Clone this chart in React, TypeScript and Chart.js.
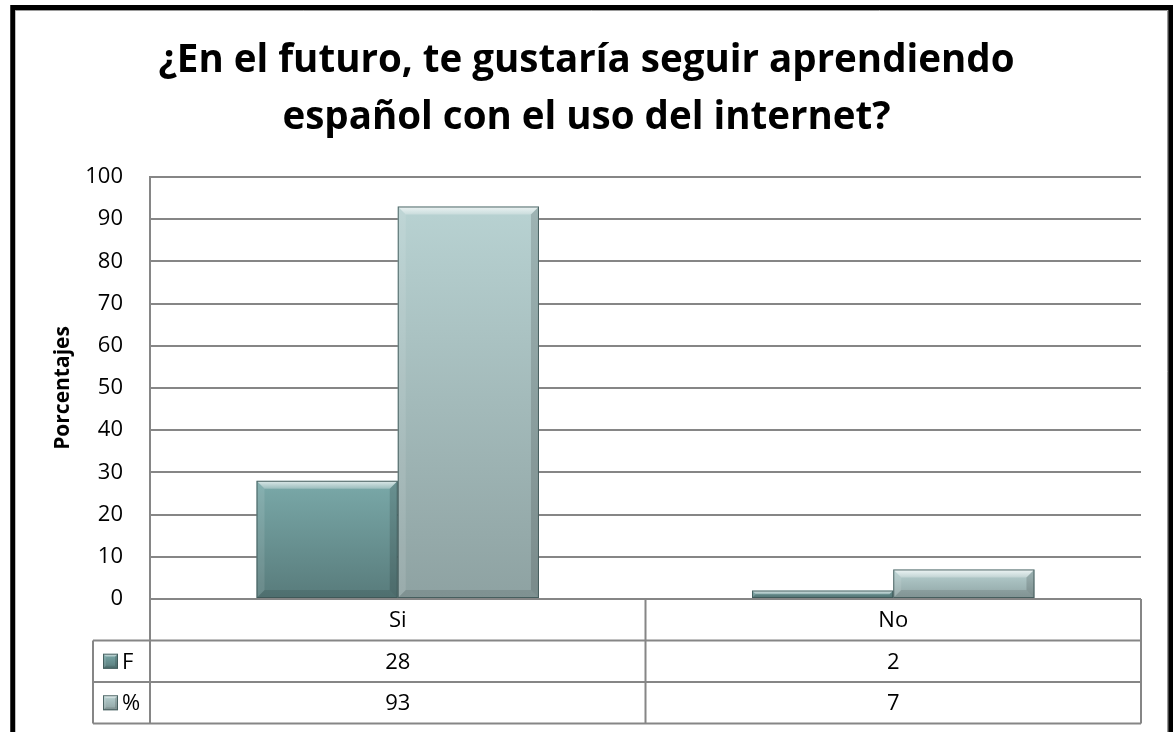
import React, { useEffect, useRef } from "react";
import { Chart, registerables } from "chart.js";

Chart.register(...registerables);

const TITLE_LINES = ["¿En el futuro, te gustaría seguir aprendiendo", "español con el uso del internet?"];
const CATEGORIES = ["Si", "No"];
const SERIES_NAMES = ["F", "%"];
const F_VALUES = [28, 2];
const PCT_VALUES = [93, 7];
const Y_MIN = 0;
const Y_MAX = 100;
const Y_STEP = 10;
const Y_TITLE = "Porcentajes";

const FONT = "'Open Sans', 'Noto Sans', sans-serif";
const GRID = "#868686";
const SERIES_TOP = ["#7aa9a9", "#b8d2d2"];
const SERIES_BOTTOM = ["#587b7b", "#8ea2a2"];

function barGradient(chart: any, idx: number, value: number) {
  const y = chart.scales.y;
  const top = y.getPixelForValue(value);
  const bot = y.getPixelForValue(0);
  const g = chart.ctx.createLinearGradient(0, top, 0, Math.max(bot, top + 1));
  g.addColorStop(0, SERIES_TOP[idx]);
  g.addColorStop(1, SERIES_BOTTOM[idx]);
  return g;
}

function bevelRect(ctx: CanvasRenderingContext2D, l: number, t: number, r: number, btm: number, size: number) {
  const b = Math.max(0, Math.min(size, (btm - t) / 2, (r - l) / 2));
  const poly = (pts: number[][], fill: any) => {
    ctx.beginPath();
    ctx.moveTo(pts[0][0], pts[0][1]);
    for (let i = 1; i < pts.length; i++) ctx.lineTo(pts[i][0], pts[i][1]);
    ctx.closePath();
    ctx.fillStyle = fill;
    ctx.fill();
  };
  const tg = ctx.createLinearGradient(0, t, 0, t + b + 0.01);
  tg.addColorStop(0, "rgba(255,255,255,0.75)");
  tg.addColorStop(1, "rgba(255,255,255,0.25)");
  poly([[l, t], [r, t], [r - b, t + b], [l + b, t + b]], tg);
  poly([[l, t], [l + b, t + b], [l + b, btm - b], [l, btm]], "rgba(255,255,255,0.10)");
  poly([[r, t], [r, btm], [r - b, btm - b], [r - b, t + b]], "rgba(0,0,0,0.14)");
  poly([[l, btm], [r, btm], [r - b, btm - b], [l + b, btm - b]], "rgba(0,0,0,0.10)");
  ctx.strokeStyle = "rgba(60,85,85,0.85)";
  ctx.lineWidth = 1;
  ctx.strokeRect(l + 0.5, t + 0.5, r - l - 1, btm - t - 1);
}

const framePlugin = {
  id: "frame",
  beforeDraw(chart: any) {
    const ctx = chart.ctx;
    ctx.save();
    ctx.fillStyle = "#ffffff";
    ctx.fillRect(0, 0, chart.width, chart.height);
    ctx.strokeStyle = "#000000";
    ctx.lineWidth = 5;
    ctx.strokeRect(12.75, 7.5, 1158, chart.height + 20);
    ctx.strokeStyle = "#9a9a9a";
    ctx.lineWidth = 1;
    ctx.beginPath();
    ctx.moveTo(15, 10.5);
    ctx.lineTo(1167.5, 10.5);
    ctx.lineTo(1167.5, chart.height);
    ctx.stroke();
    ctx.restore();
  },
};

const bevelPlugin = {
  id: "bevel",
  afterDatasetsDraw(chart: any) {
    const ctx = chart.ctx;
    ctx.save();
    chart.data.datasets.forEach((_: any, di: number) => {
      const meta = chart.getDatasetMeta(di);
      meta.data.forEach((bar: any) => {
        const p = bar.getProps(["x", "y", "base", "width"], true);
        const l = p.x - p.width / 2;
        const r = p.x + p.width / 2;
        bevelRect(ctx, l, Math.min(p.y, p.base), r, Math.max(p.y, p.base), 8);
      });
    });
    ctx.restore();
  },
};

const tablePlugin = {
  id: "dataTable",
  afterDraw(chart: any) {
    const ctx = chart.ctx;
    const area = chart.chartArea;
    const xs = chart.scales.x;
    const rowH = 41.5;
    const legendLeft = 93;
    const top = area.bottom;
    const rows = [CATEGORIES, F_VALUES.map(String), PCT_VALUES.map(String)];
    const bottom = top + rowH * rows.length;
    ctx.save();
    ctx.strokeStyle = GRID;
    ctx.lineWidth = 2;
    ctx.beginPath();
    for (let i = 1; i <= rows.length; i++) {
      const y = top + rowH * i;
      ctx.moveTo(legendLeft, y);
      ctx.lineTo(area.right, y);
    }
    ctx.moveTo(area.left, top);
    ctx.lineTo(area.left, bottom);
    ctx.moveTo(area.right, top);
    ctx.lineTo(area.right, bottom);
    ctx.moveTo(legendLeft, top + rowH);
    ctx.lineTo(legendLeft, bottom);
    for (let i = 1; i < CATEGORIES.length; i++) {
      const sx = (xs.getPixelForValue(i - 1) + xs.getPixelForValue(i)) / 2;
      ctx.moveTo(sx, top);
      ctx.lineTo(sx, bottom);
    }
    ctx.stroke();

    ctx.fillStyle = "#000";
    ctx.font = `22px ${FONT}`;
    ctx.textAlign = "center";
    ctx.textBaseline = "middle";
    rows.forEach((row, ri) => {
      row.forEach((txt, ci) => {
        ctx.fillText(txt, xs.getPixelForValue(ci), top + rowH * ri + rowH / 2 + 1);
      });
    });

    SERIES_NAMES.forEach((name, si) => {
      const cy = top + rowH * (si + 1) + rowH / 2;
      const kx = 103;
      const ks = 15;
      const g = ctx.createLinearGradient(0, cy - ks / 2, 0, cy + ks / 2);
      g.addColorStop(0, SERIES_TOP[si]);
      g.addColorStop(1, SERIES_BOTTOM[si]);
      ctx.fillStyle = g;
      ctx.fillRect(kx, cy - ks / 2, ks, ks);
      bevelRect(ctx, kx, cy - ks / 2, kx + ks, cy + ks / 2, 3);
      ctx.fillStyle = "#000";
      ctx.textAlign = "left";
      ctx.font = `22px ${FONT}`;
      ctx.fillText(name, kx + ks + 4, cy + 1);
    });
    ctx.restore();
  },
};

export default function App() {
  const ref = useRef<HTMLCanvasElement | null>(null);

  useEffect(() => {
    if (!ref.current) return;
    const chart = new Chart(ref.current, {
      type: "bar",
      data: {
        labels: CATEGORIES,
        datasets: [
          {
            label: SERIES_NAMES[0],
            data: F_VALUES,
            backgroundColor: (c: any) => (c.chart.chartArea ? barGradient(c.chart, 0, c.raw ?? 0) : SERIES_TOP[0]),
            borderWidth: 0,
          },
          {
            label: SERIES_NAMES[1],
            data: PCT_VALUES,
            backgroundColor: (c: any) => (c.chart.chartArea ? barGradient(c.chart, 1, c.raw ?? 0) : SERIES_TOP[1]),
            borderWidth: 0,
          },
        ],
      },
      options: {
        responsive: false,
        animation: false,
        devicePixelRatio: 1,
        categoryPercentage: 0.57,
        barPercentage: 1,
        layout: { padding: { left: 16, right: 16, top: 0, bottom: 133 } },
        plugins: {
          legend: { display: false },
          tooltip: { enabled: false },
          title: {
            display: true,
            text: TITLE_LINES,
            color: "#000",
            font: { family: FONT, size: 38.5, weight: "bold", lineHeight: 1.48 },
            padding: { top: 33, bottom: 30 },
          },
        },
        scales: {
          x: {
            display: false,
          },
          y: {
            min: Y_MIN,
            max: Y_MAX,
            afterFit: (s: any) => {
              s.width = 134;
            },
            ticks: {
              stepSize: Y_STEP,
              color: "#000",
              padding: 27,
              font: { family: FONT, size: 22 },
            },
            grid: { color: GRID, lineWidth: 2, drawTicks: false },
            border: { display: true, color: GRID, width: 2 },
            title: {
              display: true,
              text: Y_TITLE,
              color: "#000",
              font: { family: FONT, size: 21, weight: "bold", lineHeight: 1.2 },
              padding: { top: 34, bottom: 0 },
            },
          },
          yRight: {
            position: "right",
            display: true,
            afterFit: (s: any) => {
              s.width = 16;
            },
            ticks: { display: false },
            grid: { display: false, drawOnChartArea: false },
            border: { display: false },
          },
        },
      },
      plugins: [framePlugin, bevelPlugin, tablePlugin],
    } as any);
    return () => chart.destroy();
  }, []);

  return (
    <div style={{ position: "absolute", left: 0, top: 0, width: 1173, height: 732 }}>
      <canvas ref={ref} width={1173} height={732} style={{ display: "block" }} />
    </div>
  );
}
